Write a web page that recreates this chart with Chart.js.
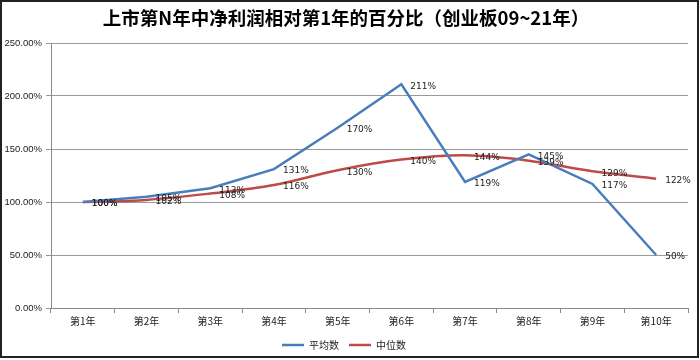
<!DOCTYPE html>
<html>
<head>
<meta charset="utf-8">
<script src="https://cdn.jsdelivr.net/npm/chart.js@4"></script>
<style>
    body { margin: 0; background: #fff; }
    #wrap { width: 700px; height: 360px; }
</style>
</head>
<body>
<div id="wrap"><canvas id="chart" width="700" height="360"></canvas></div>
<script>
const titleText = "上市第N年中净利润相对第1年的百分比（创业板09~21年）";
const years = ["第1年", "第2年", "第3年", "第4年", "第5年", "第6年", "第7年", "第8年", "第9年", "第10年"];
const avgValues = [100, 105, 113, 131, 170, 211, 119, 145, 117, 50];
const medianValues = [100, 102, 108, 116, 130, 140, 144, 139, 129, 122];
const avgLabel = "平均数";
const medianLabel = "中位数";

const numFont = "'DejaVu Sans', sans-serif";
const cjkFont = "'Noto Sans CJK SC', sans-serif";

// title, outer frame and data labels
const decorPlugin = {
    id: "decor",
    afterDraw(chart) {
        const ctx = chart.ctx;
        ctx.save();
        ctx.strokeStyle = "#222";
        ctx.lineWidth = 2;
        ctx.strokeRect(1, 1, 697, 356);

        ctx.fillStyle = "#000";
        ctx.font = "bold 18.5px " + cjkFont;
        ctx.textAlign = "center";
        ctx.textBaseline = "middle";
        ctx.fillText(titleText, 346, 18);

        ctx.font = "9px " + numFont;
        ctx.textAlign = "left";
        ctx.fillStyle = "#222";
        chart.data.datasets.forEach((ds, i) => {
            chart.getDatasetMeta(i).data.forEach((pt, j) => {
                ctx.fillText(ds.data[j] + "%", pt.x + 9, pt.y + 2);
            });
        });
        ctx.restore();
    }
};

new Chart(document.getElementById("chart"), {
    type: "line",
    data: {
        labels: years,
        datasets: [
            {
                label: avgLabel,
                data: avgValues,
                borderColor: "#4a7ebb",
                backgroundColor: "#4a7ebb",
                borderWidth: 2.5,
                pointRadius: 0,
                tension: 0
            },
            {
                label: medianLabel,
                data: medianValues,
                borderColor: "#be4b48",
                backgroundColor: "#be4b48",
                borderWidth: 2.5,
                pointRadius: 0,
                tension: 0.35
            }
        ]
    },
    options: {
        responsive: false,
        animation: false,
        layout: { padding: { left: 0, right: 12, top: 43, bottom: 0 } },
        plugins: {
            legend: {
                position: "bottom",
                labels: {
                    usePointStyle: true,
                    pointStyle: "line",
                    pointStyleWidth: 22,
                    boxHeight: 3,
                    color: "#222",
                    font: { family: cjkFont, size: 10 },
                    padding: 10
                }
            },
            tooltip: { enabled: false }
        },
        scales: {
            x: {
                offset: true,
                afterFit: s => { s.height = 22; },
                grid: {
                    offset: true,
                    drawOnChartArea: false,
                    color: "#888",
                    tickLength: 5
                },
                border: { color: "#888" },
                ticks: {
                    color: "#222",
                    font: { family: cjkFont, size: 10 },
                    maxRotation: 0,
                    padding: 2
                }
            },
            y: {
                min: 0,
                max: 250,
                afterFit: s => { s.width = 51; },
                grid: {
                    color: "#999",
                    tickLength: 5
                },
                border: { color: "#888" },
                ticks: {
                    stepSize: 50,
                    color: "#222",
                    font: { family: "'Liberation Sans', sans-serif", size: 9.5 },
                    padding: 4,
                    callback: v => v.toFixed(2) + "%"
                }
            }
        }
    },
    plugins: [decorPlugin]
});
</script>
</body>
</html>
